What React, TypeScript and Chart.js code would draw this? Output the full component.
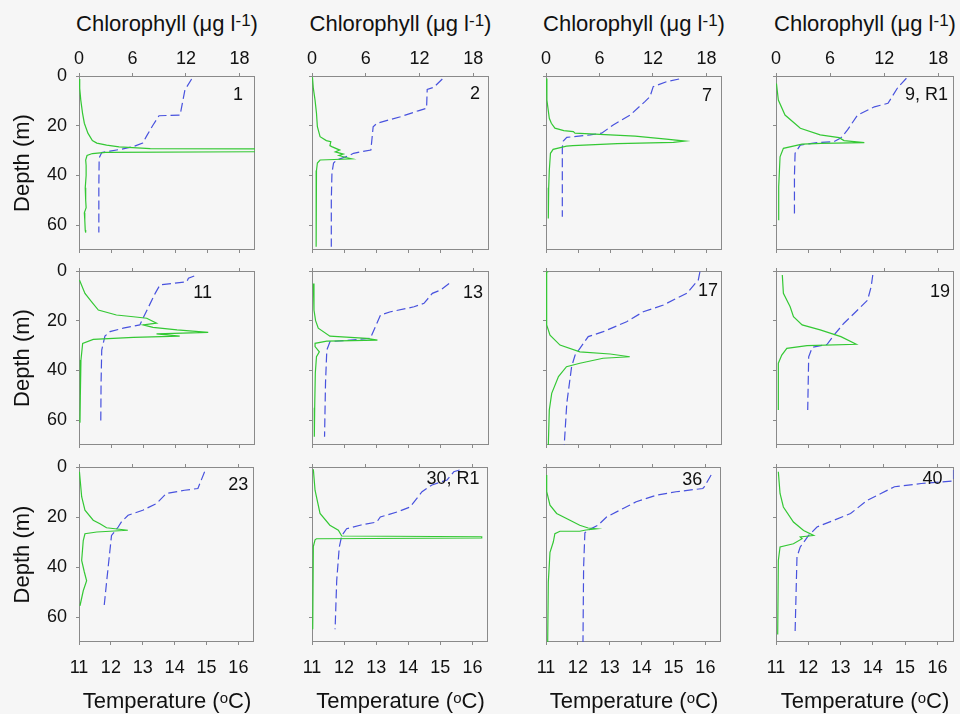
import React, { useEffect, useRef } from "react";
import { Chart, registerables } from "chart.js";

Chart.register(...registerables);

// ---------- DATA ----------
const stationLabels = ["1", "2", "7", "9, R1", "11", "13", "17", "19", "23", "30, R1", "36", "40"];
const chlTicks = [0, 6, 12, 18];
const tempTicks = [11, 12, 13, 14, 15, 16];
const depthTicks = [0, 20, 40, 60];

// each entry: [depth (m), chlorophyll (µg l-1)]
const chl_1 = [[1.2, 0.05], [5, 0.08], [9.7, 0.2], [15, 0.4], [19, 0.6], [23, 1.0], [26, 1.5], [27, 2.0], [27.8, 3.1], [28.5, 4.5], [29.2, 8], [29.4, 25], [30.4, 25], [30.7, 3], [31.2, 1.5], [32, 0.9], [33.8, 0.75], [36, 0.8], [40, 0.8], [45, 0.7], [50, 0.75], [53, 0.8], [55, 0.6], [58, 0.65], [62, 0.7], [63, 0.75]];
const chl_2 = [[0.5, 0.05], [5, 0.15], [9.7, 0.34], [15, 0.5], [20.4, 0.6], [24.4, 0.9], [26, 1.6], [26.4, 2.1], [28, 2.0], [28.4, 2.2], [29.8, 3.1], [30.5, 2.6], [31.4, 3.5], [32, 3.0], [32.8, 3.8], [33.3, 4.45], [33.6, 2.5], [33.8, 0.9], [35, 0.6], [38, 0.5], [45, 0.45], [55, 0.5], [62, 0.45], [68.7, 0.45]];
const chl_7 = [[1, 0.05], [9.7, 0.1], [17, 0.37], [19, 0.6], [21, 1.0], [22, 2.0], [22.4, 3.07], [23, 3.25], [23.5, 6.06], [24.2, 10], [25.4, 13.5], [26.2, 15.6], [26.7, 14.3], [27.2, 8], [28, 3], [28.2, 2.3], [29.5, 0.8], [31.1, 0.5], [38, 0.37], [45, 0.3], [57.3, 0.26]];
const chl_9 = [[3, 0.05], [9.7, 0.26], [15.7, 1.0], [21, 2.7], [23.7, 4.9], [24.8, 7.0], [26, 7.55], [26.8, 9.8], [27.1, 5], [27.4, 2.9], [29.1, 0.82], [32.5, 0.45], [44.5, 0.3], [58, 0.3]];
const chl_11 = [[3.6, 0.05], [9, 0.67], [12.4, 1.42], [15.7, 2.17], [17.7, 4.2], [18.4, 6.1], [19, 7.6], [21, 8.7], [21.7, 7.2], [22.7, 8.3], [23.7, 11.0], [24.7, 14.5], [25.3, 8.7], [26.2, 11.3], [26.7, 6.1], [27.5, 1.6], [29.1, 0.41], [35.8, 0.22], [50, 0.15], [61, 0.11]];
const chl_13 = [[5, 0.15], [15.7, 0.22], [20, 0.4], [23, 0.7], [26.2, 2.0], [27.1, 6.1], [27.8, 7.3], [28.2, 1.65], [29.1, 0.34], [30.4, 0.34], [32.5, 0.82], [34.5, 0.5], [41, 0.37], [55, 0.3], [66.7, 0.26]];
const chl_17 = [[0.3, 0.25], [0.5, 0.05], [11.7, 0.05], [21.7, 0.1], [25.8, 0.45], [29.8, 1.57], [32.5, 3.8], [33.4, 7.2], [34.5, 9.4], [35.1, 6.4], [37.1, 3.8], [38.5, 2.3], [42.5, 1.4], [49.2, 0.64], [55.9, 0.37], [70, 0.26]];
const chl_19 = [[1.6, 0.7], [9, 0.82], [14.4, 1.57], [18.4, 1.94], [21.7, 2.9], [23.7, 4.9], [26.4, 7.2], [29.5, 8.9], [30, 3.44], [31.1, 1.2], [33.8, 0.64], [37.1, 0.26], [55.9, 0.26]];
const chl_23 = [[1.9, 0.05], [11.9, 0.3], [17.3, 0.67], [21.3, 1.6], [22.7, 2.36], [24.3, 3.1], [25.3, 5.5], [26, 2], [26.7, 0.67], [29.4, 0.48], [37.4, 0.3], [42, 0.6], [45.5, 0.86], [49.5, 0.48], [55.5, 0.11]];
const chl_30 = [[0.9, 0.15], [9.3, 0.34], [18.6, 0.9], [23.3, 2.0], [25.3, 2.95], [27.6, 3.33], [27.9, 19.0], [28.4, 19.0], [28.7, 0.5], [29.1, 0.34], [31.8, 0.15], [64.9, 0.08]];
const chl_36 = [[3.2, 0.05], [9.9, 0.08], [15.3, 0.45], [18.6, 1.2], [21.3, 2.7], [23.3, 3.8], [24.4, 4.75], [24.7, 5.7], [25.2, 4.5], [25.7, 3.8], [25.7, 1.57], [26.7, 1.0], [30, 0.82], [34.1, 0.45], [46.1, 0.26], [70, 0.19]];
const chl_40 = [[1.9, 0.26], [10.6, 0.45], [16, 0.82], [22, 1.94], [25.4, 3.07], [27.4, 4.19], [28, 2.7], [28.7, 2.9], [30.7, 1.94], [32, 0.45], [37.4, 0.26], [67, 0.19]];

// each entry: [depth (m), temperature (°C)]
const temp_1 = [[1.2, 14.52], [5.6, 14.31], [15.7, 14.16], [16, 13.5], [20, 13.3], [24, 13.12], [27, 12.99], [28.4, 12.7], [29.5, 12.3], [30.2, 11.97], [30.8, 11.71], [33, 11.63], [45, 11.62], [63, 11.62]];
const temp_2 = [[1.2, 15.05], [4.5, 14.79], [5.4, 14.58], [13, 14.56], [14, 14.3], [16.4, 13.75], [19, 13.02], [20.4, 12.9], [29.8, 12.83], [30.5, 12.5], [31.1, 12.29], [31.8, 12.19], [33.8, 11.77], [35, 11.67], [39, 11.62], [50, 11.6], [68.7, 11.6]];
const temp_7 = [[1.2, 15.16], [2.3, 14.77], [4.3, 14.35], [8.3, 14.25], [10.3, 14.09], [15.7, 13.63], [19.7, 13.1], [23, 12.74], [23.7, 12.38], [24.7, 11.65], [26.2, 11.54], [28.7, 11.51], [40, 11.51], [56.6, 11.51]];
const temp_9 = [[0.9, 15.03], [4.5, 14.77], [11, 14.46], [12.4, 14.04], [15.7, 13.52], [21.7, 13.21], [25, 13.0], [26.4, 12.79], [26.8, 12.27], [27.8, 11.75], [31.1, 11.59], [40, 11.57], [56.6, 11.57]];
const temp_11 = [[2, 14.6], [2.9, 14.42], [4.3, 14.37], [5.6, 13.53], [9, 13.38], [16.4, 13.1], [19, 13.0], [21.7, 12.9], [23, 12.38], [24.4, 11.97], [26.2, 11.81], [31.8, 11.71], [45, 11.69], [61.3, 11.68]];
const temp_13 = [[5, 15.26], [7.6, 15.0], [9, 14.74], [13, 14.48], [14.4, 14.17], [16.4, 13.44], [17.7, 13.13], [22.4, 12.97], [27.1, 12.81], [27.8, 12.19], [28.4, 11.56], [31.8, 11.46], [45, 11.42], [66.7, 11.39]];
const temp_17 = [[0.3, 15.81], [3.6, 15.76], [9, 15.4], [11, 15.08], [13.7, 14.67], [16.4, 14.04], [20.4, 13.52], [24.4, 12.79], [26.4, 12.32], [31.1, 12.06], [33.8, 11.91], [38.5, 11.8], [53.2, 11.65], [70, 11.57]];
const temp_19 = [[1.6, 13.99], [6.3, 13.94], [11.7, 13.83], [17, 13.42], [21, 13.1], [25.8, 12.79], [29.5, 12.58], [30.7, 12.12], [34.5, 12.01], [55.9, 11.98]];
const temp_23 = [[1.9, 14.94], [8.6, 14.73], [9.3, 14.31], [10.6, 13.74], [14.6, 13.43], [17.3, 13.0], [19.3, 12.54], [22, 12.33], [24, 12.23], [27.4, 12.02], [33.4, 11.97], [45.5, 11.87], [55.5, 11.79]];
const temp_30 = [[1.2, 15.6], [1.9, 15.42], [5.2, 15.21], [7.2, 14.74], [9.9, 14.43], [16, 14.06], [18, 13.65], [20, 13.13], [22, 13.02], [23.3, 12.5], [24.7, 12.08], [27.4, 11.93], [32, 11.85], [45.5, 11.77], [64.9, 11.72]];
const temp_36 = [[3.2, 16.18], [7.9, 15.97], [8.6, 15.92], [9.9, 15.08], [11.3, 14.46], [13.9, 13.83], [16.6, 13.42], [20, 12.9], [23.3, 12.63], [25.3, 12.32], [26.3, 12.22], [40, 12.18], [70, 12.16]];
const temp_40 = [[1.2, 16.5], [5.6, 16.5], [6.6, 15.5], [7.9, 14.67], [10.6, 14.25], [13.3, 13.83], [18.6, 13.31], [21.3, 12.79], [24, 12.27], [27.4, 12.01], [32, 11.75], [36, 11.65], [67, 11.59]];

const chlProfiles = [chl_1, chl_2, chl_7, chl_9, chl_11, chl_13, chl_17, chl_19, chl_23, chl_30, chl_36, chl_40];
const tempProfiles = [temp_1, temp_2, temp_7, temp_9, temp_11, temp_13, temp_17, temp_19, temp_23, temp_30, temp_36, temp_40];

// ---------- LAYOUT / STYLE ----------
const COL_LEFT = [79, 312, 546, 776];
const COL_WIDTH = [176, 177, 176, 178];
const ROW_TOP = [76, 271, 467];
const ROW_HEIGHT = [174, 174, 175];
const PAD_L = 79, PAD_T = 45, PAD_R = 6, PAD_B = 45;
// station label: [offset of right edge from plot right, offset of centre from plot top]
const LABEL_POS = [[-12, 19], [-9, 18.5], [-10, 20], [-6, 19.5], [-43, 22.5], [-6, 22], [-4, 20.5], [-4, 21.5], [-6, 18], [-9, 12.5], [-19, 13], [-11, 12]];

const FONT = "'Liberation Sans', Arial, Helvetica, sans-serif";
const GREEN = "rgb(52, 200, 52)";
const BLUE = "rgb(72, 82, 222)";
const FRAME = "#8a8a8a";
const TEXT = "#111111";
const BG = "#f6f6f6";

const framePlugin = {
  id: "frame",
  beforeDatasetsDraw(chart: any) {
    const { ctx, chartArea: a } = chart;
    ctx.save();
    ctx.strokeStyle = FRAME;
    ctx.lineWidth = 1;
    ctx.strokeRect(Math.round(a.left) + 0.5, Math.round(a.top) + 0.5, Math.round(a.right - a.left) - 1, Math.round(a.bottom - a.top) - 1);
    ctx.restore();
  },
};

const stationPlugin = {
  id: "station",
  afterDatasetsDraw(chart: any, _args: any, opts: any) {
    const { ctx, chartArea: a } = chart;
    ctx.save();
    ctx.font = `18px ${FONT}`;
    ctx.fillStyle = TEXT;
    ctx.textAlign = "right";
    ctx.textBaseline = "middle";
    ctx.fillText(opts.text, a.right + opts.dx, a.top + opts.dy);
    ctx.restore();
  },
};

function Panel({ idx }: { idx: number }) {
  const ref = useRef<HTMLCanvasElement>(null);
  const row = Math.floor(idx / 4);
  const col = idx % 4;
  const w = COL_WIDTH[col];
  const h = ROW_HEIGHT[row];

  useEffect(() => {
    const tickGrid = { display: true, drawOnChartArea: false, drawTicks: true, tickLength: 3, color: FRAME, lineWidth: 1 };
    const tickFont = { family: FONT, size: 18 };
    const chart = new Chart(ref.current as HTMLCanvasElement, {
      type: "line",
      data: {
        datasets: [
          {
            label: "Chlorophyll",
            data: chlProfiles[idx].map(([d, v]) => ({ x: v, y: d })),
            xAxisID: "xc",
            yAxisID: "y",
            borderColor: GREEN,
            borderWidth: 1.2,
            pointRadius: 0,
            tension: 0,
            fill: false,
          },
          {
            label: "Temperature",
            data: tempProfiles[idx].map(([d, v]) => ({ x: v, y: d })),
            xAxisID: "xt",
            yAxisID: "y",
            borderColor: BLUE,
            borderWidth: 1.2,
            borderDash: [9, 4],
            pointRadius: 0,
            tension: 0,
            fill: false,
          },
        ],
      },
      options: {
        responsive: false,
        maintainAspectRatio: false,
        animation: false,
        devicePixelRatio: 1,
        events: [],
        layout: { padding: { left: 0, top: 0, right: PAD_R, bottom: 0 } },
        plugins: {
          legend: { display: false },
          tooltip: { enabled: false },
          station: { text: stationLabels[idx], dx: LABEL_POS[idx][0], dy: LABEL_POS[idx][1] },
        } as any,
        scales: {
          xt: {
            type: "linear",
            position: "bottom",
            min: 11,
            max: 16.5,
            afterBuildTicks: (s: any) => { s.ticks = tempTicks.map((v) => ({ value: v })); },
            afterFit: (s: any) => { s.height = PAD_B; },
            ticks: { display: row === 2, font: tickFont, color: TEXT, padding: 12, maxRotation: 0, autoSkip: false },
            grid: tickGrid,
            border: { display: false },
          },
          xc: {
            type: "linear",
            position: "top",
            min: 0,
            max: 19.75,
            afterBuildTicks: (s: any) => { s.ticks = chlTicks.map((v) => ({ value: v })); },
            afterFit: (s: any) => { s.height = PAD_T; },
            ticks: { display: row === 0, font: tickFont, color: TEXT, padding: 3, maxRotation: 0, autoSkip: false },
            grid: tickGrid,
            border: { display: false },
          },
          y: {
            type: "linear",
            position: "left",
            reverse: true,
            min: 0,
            max: 70,
            afterBuildTicks: (s: any) => { s.ticks = depthTicks.map((v) => ({ value: v })); },
            afterFit: (s: any) => { s.width = PAD_L; },
            ticks: { display: col === 0, font: tickFont, color: TEXT, padding: 9, autoSkip: false },
            grid: tickGrid,
            border: { display: false },
            title: {
              display: col === 0,
              text: "Depth (m)",
              color: TEXT,
              font: { family: FONT, size: 22 },
              padding: { top: 10, bottom: 0 },
            },
          },
        } as any,
      },
      plugins: [framePlugin, stationPlugin],
    } as any);
    return () => chart.destroy();
  }, []);

  return (
    <canvas
      ref={ref}
      width={PAD_L + w + PAD_R}
      height={PAD_T + h + PAD_B}
      style={{ position: "absolute", left: COL_LEFT[col] - PAD_L, top: ROW_TOP[row] - PAD_T }}
    />
  );
}

export default function App() {
  const cols = [0, 1, 2, 3];
  return (
    <div
      style={{
        position: "absolute",
        left: 0,
        top: 0,
        width: 960,
        height: 714,
        background: BG,
        fontFamily: FONT,
        color: TEXT,
        overflow: "hidden",
      }}
    >
      {cols.map((c) => (
        <div
          key={"t" + c}
          style={{
            position: "absolute",
            left: COL_LEFT[c] - 30,
            width: COL_WIDTH[c] + 60,
            top: 13,
            fontSize: 22,
            lineHeight: "22px",
            textAlign: "center",
            whiteSpace: "nowrap",
          }}
        >
          Chlorophyll (μg l<span style={{ fontSize: 17, position: "relative", top: -5 }}>-1</span>)
        </div>
      ))}
      {stationLabels.map((_, i) => (
        <Panel key={i} idx={i} />
      ))}
      {cols.map((c) => (
        <div
          key={"b" + c}
          style={{
            position: "absolute",
            left: COL_LEFT[c] - 30,
            width: COL_WIDTH[c] + 60,
            top: 690,
            fontSize: 22,
            lineHeight: "22px",
            textAlign: "center",
            whiteSpace: "nowrap",
          }}
        >
          Temperature (<span style={{ fontSize: 15, position: "relative", top: -5 }}>o</span>C)
        </div>
      ))}
    </div>
  );
}
